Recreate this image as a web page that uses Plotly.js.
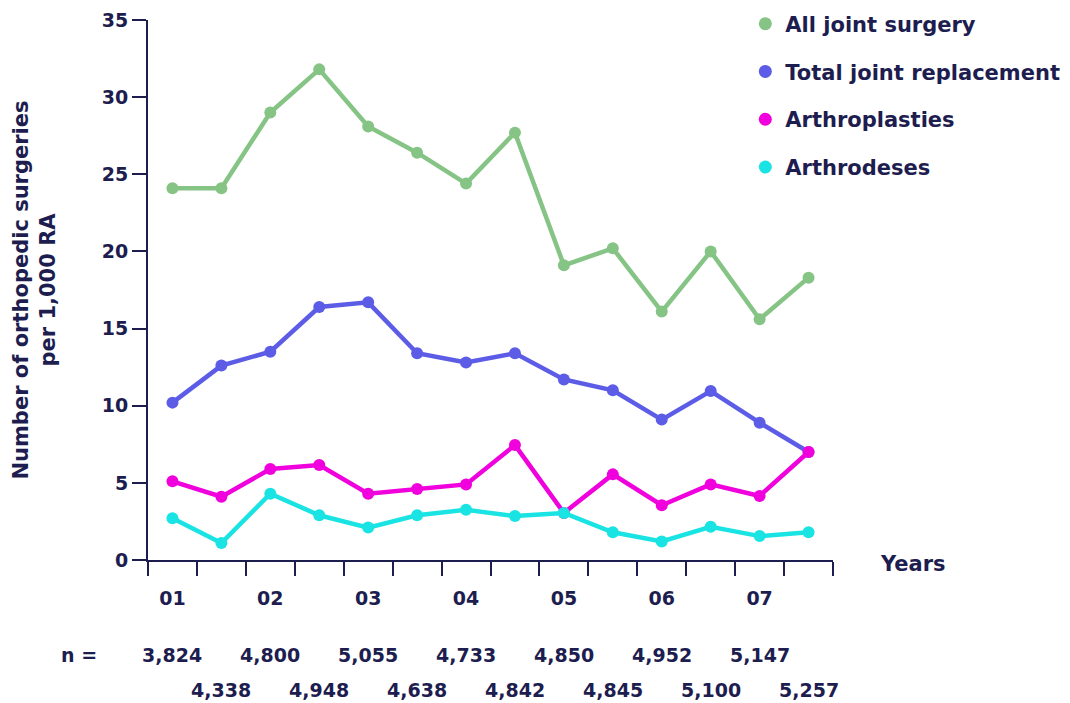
<!DOCTYPE html>
<html>
<head>
<meta charset="utf-8">
<script src="https://cdn.plot.ly/plotly-3.0.1.min.js"></script>
<style>html,body{margin:0;padding:0;background:#fff;}#chart{width:1070px;height:703px;}</style>
</head>
<body>
<div id="chart"></div>
<script>
// Half-year periods (14 points), positions are period indices
const periodIndex = [0.5,1.5,2.5,3.5,4.5,5.5,6.5,7.5,8.5,9.5,10.5,11.5,12.5,13.5];
const yearLabelPos = [0.5,2.5,4.5,6.5,8.5,10.5,12.5];
const yearLabels = ["01","02","03","04","05","06","07"];
const tickBoundaries = [0,1,2,3,4,5,6,7,8,9,10,11,12,13,14];
const nValues = ["3,824","4,338","4,800","4,948","5,055","4,638","4,733","4,842","4,850","4,845","4,952","5,100","5,147","5,257"];

const seriesNames = ["All joint surgery","Total joint replacement","Arthroplasties","Arthrodeses"];
const allJointSurgery = [24.1,24.1,29.0,31.8,28.1,26.4,24.4,27.7,19.1,20.2,16.1,20.0,15.6,18.3];
const totalJointReplacement = [10.2,12.6,13.5,16.4,16.7,13.4,12.8,13.4,11.7,11.0,9.1,10.95,8.9,7.0];
const arthroplasties = [5.1,4.1,5.9,6.15,4.3,4.6,4.9,7.45,3.05,5.55,3.55,4.9,4.15,7.0];
const arthrodeses = [2.7,1.1,4.3,2.9,2.1,2.9,3.25,2.85,3.05,1.8,1.2,2.15,1.55,1.8];

const colors = ["#86c486","#5c5ce6","#f000dc","#19e3e3"];
const textColor = "#1d1d4f";
const fontFam = "DejaVu Sans, Verdana, sans-serif";

const seriesData = [allJointSurgery,totalJointReplacement,arthroplasties,arthrodeses];
const traces = [];
seriesData.forEach((ys,i)=>{
  traces.push({
    x: periodIndex, y: ys, type:"scatter", mode:"lines+markers",
    line:{color:colors[i], width:4.5}, marker:{color:colors[i], size:12},
    showlegend:false, hoverinfo:"skip", cliponaxis:false
  });
});
seriesData.forEach((ys,i)=>{
  traces.push({
    x:[null], y:[null], type:"scatter", mode:"markers", name:seriesNames[i],
    marker:{color:colors[i], size:13}, legendgroup:"g"+i, showlegend:true
  });
});

const annotations = [];
nValues.forEach((v,i)=>{
  annotations.push({
    x: periodIndex[i], xref:"x", y: (i%2===0)? -0.176 : -0.241, yref:"paper",
    text:v, showarrow:false, xanchor:"center", yanchor:"middle",
    font:{family:fontFam, size:19, color:textColor, weight:"bold"}
  });
});
annotations.push({x:-0.1007, xref:"paper", y:-0.176, yref:"paper", text:"n =", showarrow:false,
  xanchor:"center", yanchor:"middle", font:{family:fontFam, size:19, color:textColor, weight:"bold"}});
annotations.push({x:1.117, xref:"paper", y:-0.007, yref:"paper", text:"Years", showarrow:false,
  xanchor:"center", yanchor:"middle", font:{family:fontFam, size:21, color:textColor, weight:"bold"}});

const layout = {
  width:1070, height:703,
  margin:{l:148, r:237, t:20, b:143, pad:0, autoexpand:false},
  paper_bgcolor:"#fff", plot_bgcolor:"#fff",
  showlegend:true,
  legend:{x:0.872, xanchor:"left", y:1.0306, yanchor:"top", tracegroupgap:17.5,
    font:{family:fontFam, size:21, color:textColor, weight:"bold"}, bgcolor:"rgba(0,0,0,0)"},
  xaxis:{
    range:[0,14], showgrid:false, zeroline:false,
    showline:true, linecolor:textColor, linewidth:2,
    tickmode:"array", tickvals:yearLabelPos, ticktext:yearLabels,
    ticks:"outside", ticklen:14, tickcolor:"rgba(0,0,0,0)",
    ticklabelstandoff:6,
    tickfont:{family:fontFam, size:19, color:textColor, weight:"bold"},
    minor:{tickmode:"array", tickvals:tickBoundaries, ticks:"outside", ticklen:14, tickwidth:2, tickcolor:textColor, showgrid:false},
    fixedrange:true
  },
  yaxis:{
    range:[0,35], showgrid:false, zeroline:false,
    showline:true, linecolor:textColor, linewidth:2,
    tickmode:"array", tickvals:[0,5,10,15,20,25,30,35],
    ticks:"outside", ticklen:14, tickwidth:2, tickcolor:textColor,
    tickfont:{family:fontFam, size:19, color:textColor, weight:"bold"},
    title:{text:"Number of orthopedic surgeries<br>per 1,000 RA", standoff:40,
      font:{family:fontFam, size:21, color:textColor, weight:"bold"}},
    automargin:false, fixedrange:true
  },
  annotations: annotations
};

Plotly.newPlot("chart", traces, layout, {displayModeBar:false, staticPlot:true});
</script>
</body>
</html>
